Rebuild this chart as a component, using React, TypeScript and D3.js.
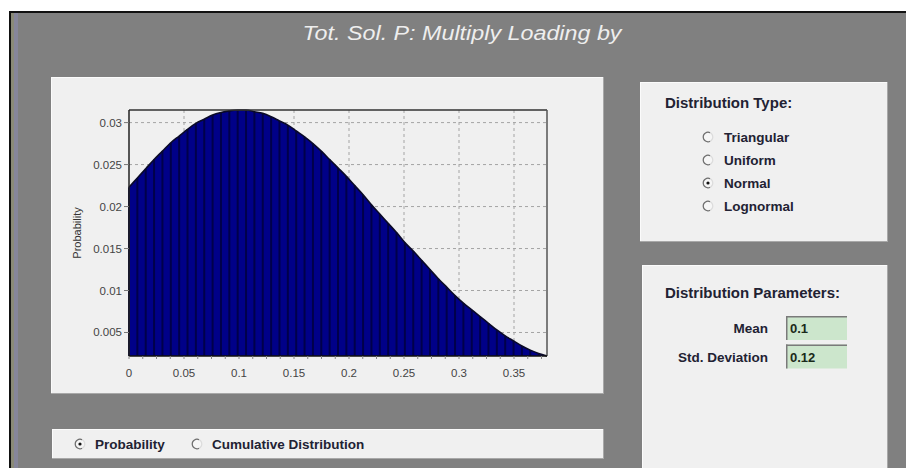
import React from 'react';
import * as d3 from 'd3';

const binX = [
  0, 0.0076, 0.0152, 0.0228, 0.0304, 0.038, 0.0456, 0.0532, 0.0608, 0.0684,
  0.076, 0.0836, 0.0912, 0.0988, 0.1064, 0.114, 0.1216, 0.1292, 0.1368, 0.1444,
  0.152, 0.1596, 0.1672, 0.1748, 0.1824, 0.19, 0.1976, 0.2052, 0.2128, 0.2204,
  0.228, 0.2356, 0.2432, 0.2508, 0.2584, 0.266, 0.2736, 0.2812, 0.2888, 0.2964,
  0.304, 0.3116, 0.3192, 0.3268, 0.3344, 0.342, 0.3496, 0.3572, 0.3648, 0.3724, 0.38,
];
const probValues = [
  0.0223, 0.0234, 0.0245, 0.0256, 0.0266, 0.0276, 0.0284, 0.0292, 0.0299, 0.0304,
  0.0309, 0.0312, 0.0314, 0.0315, 0.0315, 0.0313, 0.0311, 0.0307, 0.0302, 0.0297,
  0.029, 0.0283, 0.0275, 0.0266, 0.0256, 0.0246, 0.0236, 0.0225, 0.0214, 0.0202,
  0.0191, 0.018, 0.0169, 0.0157, 0.0147, 0.0136, 0.0125, 0.0114, 0.0104, 0.0094,
  0.0085, 0.0077, 0.0069, 0.0061, 0.0053, 0.0046, 0.004, 0.0034, 0.0029, 0.0025, 0.0022,
];
const xTicks = [0, 0.05, 0.1, 0.15, 0.2, 0.25, 0.3, 0.35];
const xTickLabels = ['0', '0.05', '0.1', '0.15', '0.2', '0.25', '0.3', '0.35'];
const yTicks = [0.005, 0.01, 0.015, 0.02, 0.025, 0.03];
const yTickLabels = ['0.005', '0.01', '0.015', '0.02', '0.025', '0.03'];
const titleText = 'Tot. Sol. P: Multiply Loading by';
const yAxisLabel = 'Probability';
const distTypes = ['Triangular', 'Uniform', 'Normal', 'Lognormal'];
const selectedType = 'Normal';
const paramNames = ['Mean', 'Std. Deviation'];
const paramValues = ['0.1', '0.12'];
const viewModes = ['Probability', 'Cumulative Distribution'];
const selectedMode = 'Probability';

const FONT = "'Liberation Sans', Arial, sans-serif";

function Radio({ cx, cy, selected }: { cx: number; cy: number; selected: boolean }) {
  const arcGen = d3.arc();
  const dark = arcGen({ innerRadius: 4.2, outerRadius: 5.4, startAngle: Math.PI * 0.85, endAngle: Math.PI * 2.15 } as any) as string;
  const light = arcGen({ innerRadius: 4.2, outerRadius: 5.4, startAngle: Math.PI * 0.15, endAngle: Math.PI * 0.85 } as any) as string;
  return (
    <g transform={`translate(${cx},${cy})`}>
      <circle r={4.4} fill="#f6f6f6" />
      <path d={dark} fill="#6e6e6e" />
      <path d={light} fill="#dcdcdc" />
      {selected && <circle r={1.6} fill="#111" />}
    </g>
  );
}

function Panel({ x, y, w, h }: { x: number; y: number; w: number; h: number }) {
  return (
    <g>
      <rect x={x} y={y} width={w} height={h} fill="#f0f0f0" />
      <line x1={x} y1={y + 0.5} x2={x + w} y2={y + 0.5} stroke="#fbfbfb" />
      <line x1={x + 0.5} y1={y} x2={x + 0.5} y2={y + h} stroke="#fbfbfb" />
      <line x1={x + w - 0.5} y1={y} x2={x + w - 0.5} y2={y + h} stroke="#a8a8a8" />
      <line x1={x} y1={y + h - 0.5} x2={x + w} y2={y + h - 0.5} stroke="#a8a8a8" />
    </g>
  );
}

export default function App() {
  const W = 906;
  const H = 468;
  const left = 129, right = 547, top = 110, bottom = 356;
  const x = d3.scaleLinear().domain([0, 0.38]).range([left, right]);
  const y = d3.scaleLinear().domain([0.0022, 0.0315]).range([bottom, top]);
  const pts = binX.map((bx, i) => [bx, probValues[i]] as [number, number]);
  const areaPath = d3
    .area<[number, number]>()
    .x((d) => x(d[0]))
    .y0(bottom)
    .y1((d) => y(d[1]))
    .curve(d3.curveMonotoneX)(pts) as string;
  const linePath = d3
    .line<[number, number]>()
    .x((d) => x(d[0]))
    .y((d) => y(d[1]))
    .curve(d3.curveMonotoneX)(pts) as string;
  const minorTicks = d3.range(0, 0.38, 0.0125);

  return (
    <svg width={W} height={H} style={{ position: 'absolute', left: 0, top: 0, display: 'block' }} fontFamily={FONT}>
      <rect x={0} y={0} width={W} height={H} fill="#ffffff" />
      <rect x={9} y={11} width={W - 9} height={H - 11} fill="#808080" />
      <rect x={11} y={13} width={3} height={H - 13} fill="#8a8a78" />
      <rect x={14} y={13} width={4} height={H - 13} fill="#86869a" />
      <line x1={9} y1={12} x2={W} y2={12} stroke="#111" strokeWidth={2} />
      <line x1={10} y1={11} x2={10} y2={H} stroke="#111" strokeWidth={2} />

      <text x={462} y={40} textAnchor="middle" fontStyle="italic" fontSize={20} fill="#eeeeee" textLength={319} lengthAdjust="spacingAndGlyphs">
        {titleText}
      </text>

      {/* Chart panel */}
      <Panel x={51} y={77} w={553} h={317} />

      {/* grid */}
      {xTicks.filter((t) => t > 0).map((t) => (
        <line key={'gx' + t} x1={x(t)} x2={x(t)} y1={top} y2={bottom} stroke="#a4a4a4" strokeDasharray="3,3" />
      ))}
      {yTicks.map((t) => (
        <line key={'gy' + t} x1={left} x2={right} y1={y(t)} y2={y(t)} stroke="#a4a4a4" strokeDasharray="3,3" />
      ))}

      {/* bars */}
      <path d={areaPath} fill="#000088" />
      {binX.map((bx, i) => (
        <line key={'s' + i} x1={x(bx)} x2={x(bx)} y1={y(probValues[i])} y2={bottom} stroke="#00004a" strokeWidth={2} />
      ))}
      <path d={linePath} fill="none" stroke="#0a0a28" strokeWidth={1.6} />

      {/* frame */}
      <line x1={left} y1={top} x2={right} y2={top} stroke="#333" strokeWidth={1.5} />
      <line x1={left} y1={top} x2={left} y2={bottom} stroke="#222" strokeWidth={1.5} />
      <line x1={right} y1={top} x2={right} y2={bottom} stroke="#555" strokeWidth={1.5} />
      <line x1={left} y1={bottom} x2={right} y2={bottom} stroke="#111" strokeWidth={1.5} />

      {/* ticks */}
      {yTicks.map((t, i) => (
        <g key={'yt' + t}>
          <line x1={left - 5} x2={left} y1={y(t)} y2={y(t)} stroke="#777" />
          <text x={left - 7} y={y(t) + 4} textAnchor="end" fontSize={11.5} fill="#444">
            {yTickLabels[i]}
          </text>
        </g>
      ))}
      {minorTicks.map((t) => (
        <line key={'mt' + t} x1={x(t)} x2={x(t)} y1={bottom} y2={bottom + 3} stroke="#888" />
      ))}
      {xTicks.map((t, i) => (
        <text key={'xt' + t} x={x(t)} y={bottom + 21} textAnchor="middle" fontSize={11.5} fill="#444">
          {xTickLabels[i]}
        </text>
      ))}
      <text transform="translate(81,233) rotate(-90)" textAnchor="middle" fontSize={11} fill="#333">
        {yAxisLabel}
      </text>

      {/* Distribution type panel */}
      <Panel x={640} y={82} w={248} h={160} />
      <text x={665} y={108} fontSize={15} fontWeight="bold" fill="#222233">Distribution Type:</text>
      {distTypes.map((t, i) => {
        const cy = 137 + i * 23;
        return (
          <g key={t}>
            <Radio cx={708} cy={cy} selected={t === selectedType} />
            <text x={724} y={cy + 5} fontSize={13.5} fontWeight="bold" fill="#222233">{t}</text>
          </g>
        );
      })}

      {/* Distribution parameters panel */}
      <Panel x={642} y={265} w={246} h={210} />
      <text x={665} y={298} fontSize={15} fontWeight="bold" fill="#222233">Distribution Parameters:</text>
      {paramNames.map((n, i) => {
        const by = 316 + i * 28.5;
        return (
          <g key={n}>
            <text x={768} y={by + 17} textAnchor="end" fontSize={13.5} fontWeight="bold" fill="#222233">{n}</text>
            <rect x={786} y={by} width={61} height={24} fill="#cce6cc" />
            <line x1={786} y1={by + 0.75} x2={847} y2={by + 0.75} stroke="#7a7a7a" strokeWidth={1.5} />
            <line x1={786.75} y1={by} x2={786.75} y2={by + 24} stroke="#7a7a7a" strokeWidth={1.5} />
            <text x={790} y={by + 17} fontSize={13} fontWeight="bold" fill="#1a2a1a">{paramValues[i]}</text>
          </g>
        );
      })}

      {/* Bottom mode panel */}
      <Panel x={52} y={429} w={552} h={30} />
      {viewModes.map((m, i) => {
        const cx = i === 0 ? 80 : 197;
        return (
          <g key={m}>
            <Radio cx={cx} cy={444} selected={m === selectedMode} />
            <text x={cx + 15} y={449} fontSize={13.5} fontWeight="bold" fill="#222233">{m}</text>
          </g>
        );
      })}
    </svg>
  );
}
